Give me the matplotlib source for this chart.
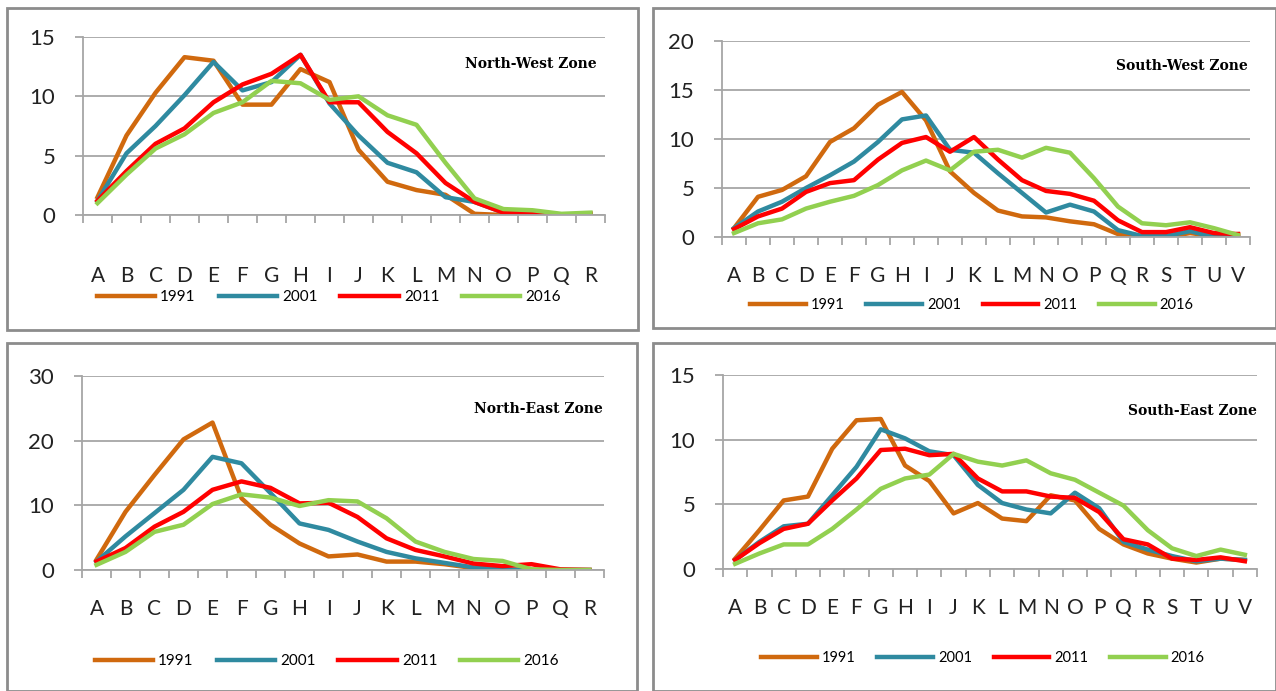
import matplotlib
matplotlib.use("Agg")
import matplotlib.pyplot as plt
from matplotlib.patches import Rectangle

# categories on the x axis
cats_18 = list("ABCDEFGHIJKLMNOPQR")
cats_22 = list("ABCDEFGHIJKLMNOPQRSTUV")
years = ["1991", "2001", "2011", "2016"]

# North-West zone
nw_1991 = [1.5, 6.7, 10.3, 13.3, 13.0, 9.3, 9.3, 12.3, 11.2, 5.5, 2.8, 2.1, 1.7, 0.1, 0.0, 0.0, 0.0, 0.1]
nw_2001 = [1.2, 5.2, 7.5, 10.1, 12.9, 10.5, 11.2, 13.5, 9.4, 6.7, 4.4, 3.6, 1.5, 1.1, 0.2, 0.1, 0.0, 0.0]
nw_2011 = [1.2, 3.7, 6.0, 7.3, 9.5, 11.0, 11.9, 13.5, 9.5, 9.5, 7.0, 5.2, 2.7, 1.1, 0.2, 0.1, 0.0, 0.1]
nw_2016 = [1.0, 3.4, 5.6, 6.8, 8.6, 9.5, 11.3, 11.1, 9.7, 10.0, 8.4, 7.6, 4.4, 1.4, 0.5, 0.4, 0.1, 0.2]

# South-West zone
sw_1991 = [0.9, 4.1, 4.8, 6.2, 9.7, 11.1, 13.5, 14.8, 11.9, 6.7, 4.5, 2.7, 2.1, 2.0, 1.6, 1.3, 0.3, 0.0, 0.0, 0.4, 0.1, 0.3]
sw_2001 = [0.9, 2.6, 3.6, 5.0, 6.3, 7.7, 9.7, 12.0, 12.4, 8.9, 8.6, 6.5, 4.5, 2.5, 3.3, 2.6, 0.7, 0.1, 0.1, 0.6, 0.0, 0.0]
sw_2011 = [0.8, 2.1, 2.9, 4.6, 5.5, 5.8, 7.9, 9.6, 10.2, 8.7, 10.2, 7.9, 5.8, 4.7, 4.4, 3.7, 1.7, 0.5, 0.5, 1.0, 0.4, 0.3]
sw_2016 = [0.4, 1.4, 1.8, 2.9, 3.6, 4.2, 5.3, 6.8, 7.8, 6.8, 8.7, 8.9, 8.1, 9.1, 8.6, 6.0, 3.1, 1.4, 1.2, 1.5, 0.9, 0.2]

# North-East zone
ne_1991 = [1.6, 9.0, 14.7, 20.2, 22.8, 11.1, 7.0, 4.1, 2.1, 2.4, 1.3, 1.3, 0.9, 0.3, 0.0, 0.0, 0.0, 0.0]
ne_2001 = [1.3, 5.2, 8.8, 12.4, 17.5, 16.5, 11.9, 7.2, 6.2, 4.4, 2.8, 1.8, 1.1, 0.4, 0.1, 0.0, 0.0, 0.0]
ne_2011 = [1.3, 3.4, 6.7, 9.0, 12.4, 13.7, 12.7, 10.3, 10.4, 8.2, 4.9, 3.1, 2.1, 1.0, 0.6, 0.9, 0.1, 0.0]
ne_2016 = [0.8, 2.8, 5.9, 7.0, 10.2, 11.7, 11.2, 9.9, 10.8, 10.6, 8.0, 4.4, 2.8, 1.7, 1.4, 0.1, 0.0, 0.0]

# South-East zone
se_1991 = [0.8, 3.0, 5.3, 5.6, 9.3, 11.5, 11.6, 8.0, 6.8, 4.3, 5.1, 3.9, 3.7, 5.7, 5.3, 3.1, 1.9, 1.2, 0.8, 0.5, 0.8, 0.7]
se_2001 = [0.7, 2.1, 3.3, 3.5, 5.7, 7.9, 10.8, 10.1, 9.1, 8.8, 6.5, 5.1, 4.6, 4.3, 5.9, 4.7, 2.1, 1.5, 1.0, 0.6, 0.8, 0.7]
se_2011 = [0.7, 2.0, 3.1, 3.5, 5.3, 7.0, 9.2, 9.3, 8.8, 8.9, 7.0, 6.0, 6.0, 5.6, 5.5, 4.4, 2.3, 1.9, 0.8, 0.7, 0.9, 0.6]
se_2016 = [0.4, 1.2, 1.9, 1.9, 3.1, 4.6, 6.2, 7.0, 7.3, 8.9, 8.3, 8.0, 8.4, 7.4, 6.9, 5.9, 4.9, 3.0, 1.6, 1.0, 1.5, 1.1]

colors = ["#d0690e", "#2f8aa0", "#ff0000", "#92d050"]
W, H = 1276, 691

plt.rcParams['font.family'] = ['Lato', 'DejaVu Sans']

fig = plt.figure(figsize=(W / 100, H / 100), dpi=100)


def px_rect(x0, y0, x1, y1):
    # pixel box (top-left origin) -> figure fraction [left, bottom, width, height]
    return [x0 / W, 1 - y1 / H, (x1 - x0) / W, (y1 - y0) / H]


def draw_zone(box, axbox, cats, series, ymax, ystep, title, title_xy, leg_xy, leg_size, xpad):
    # panel frame
    bx = px_rect(*box)
    fig.patches.append(Rectangle((bx[0], bx[1]), bx[2], bx[3], transform=fig.transFigure,
                                 fill=False, edgecolor="#8c8c8c", linewidth=2))
    ax = fig.add_axes(px_rect(*axbox))
    x = list(range(len(cats)))
    for vals, c, yr in zip(series, colors, years):
        ax.plot(x, vals, color=c, linewidth=3.2, label=yr, solid_joinstyle="round")
    ax.set_xlim(-0.5, len(cats) - 0.5)
    ax.set_ylim(0, ymax)
    ax.set_yticks(range(0, ymax + 1, ystep))
    ax.set_xticks(x)
    ax.set_xticklabels(cats)
    ax.set_xticks([i - 0.5 for i in range(len(cats) + 1)], minor=True)
    ax.yaxis.grid(True, color="#a6a6a6", linewidth=1.3)
    ax.set_axisbelow(True)
    for s in ["top", "right"]:
        ax.spines[s].set_visible(False)
    for s in ["left", "bottom"]:
        ax.spines[s].set_color("#a6a6a6")
        ax.spines[s].set_linewidth(1.3)
    ax.tick_params(axis="x", which="major", length=0, pad=xpad, labelsize=15, colors="#222222")
    ax.tick_params(axis="x", which="minor", length=6, width=1.3, color="#a6a6a6")
    ax.tick_params(axis="y", length=6, width=1.3, color="#a6a6a6", pad=14,
                   labelsize=16, labelcolor="#222222")
    fig.text(title_xy[0] / W, 1 - title_xy[1] / H, title, ha="right", va="center",
             family="DejaVu Serif", weight="bold", fontsize=10)
    fig.legend(*ax.get_legend_handles_labels(), loc="center", ncol=4, frameon=False,
               bbox_to_anchor=(leg_xy[0] / W, 1 - leg_xy[1] / H),
               fontsize=leg_size, handlelength=3.8, handletextpad=0.35, columnspacing=1.5)
    return ax


draw_zone((7, 8, 638, 330), (83, 37, 605, 215), cats_18,
          [nw_1991, nw_2001, nw_2011, nw_2016], 15, 5,
          "North-West Zone", (597, 64), (329, 297), 11, 37)
draw_zone((653, 8, 1276, 328), (722, 41, 1250, 237), cats_22,
          [sw_1991, sw_2001, sw_2011, sw_2016], 20, 5,
          "South-West Zone", (1248, 66), (972, 305), 10.5, 21)
draw_zone((7, 343, 637, 691), (82, 376, 604, 570), cats_18,
          [ne_1991, ne_2001, ne_2011, ne_2016], 30, 10,
          "North-East Zone", (603, 409), (327, 661), 11, 21)
draw_zone((653, 343, 1276, 691), (723, 375, 1257, 569), cats_22,
          [se_1991, se_2001, se_2011, se_2016], 15, 5,
          "South-East Zone", (1257, 411), (983, 658), 10.5, 21)

fig.savefig("out.png", dpi=100)
